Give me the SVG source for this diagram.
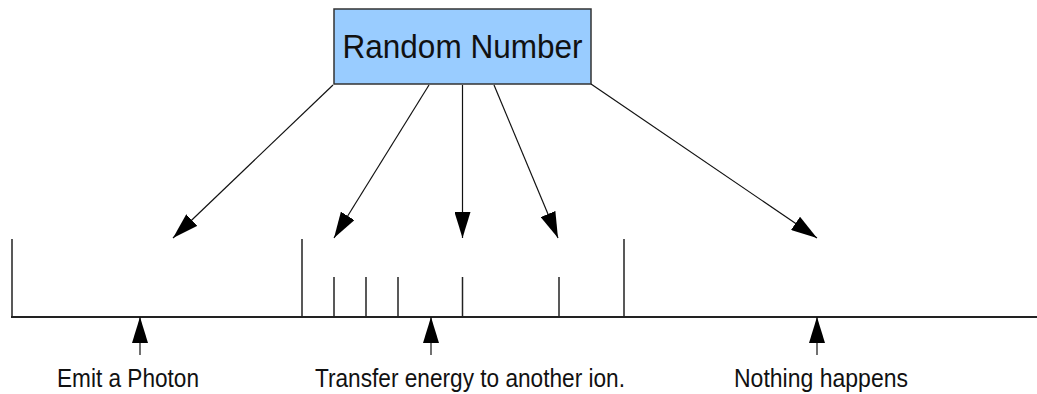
<svg xmlns="http://www.w3.org/2000/svg" width="1037" height="394" viewBox="0 0 1037 394">
<style>
.lbl{font-family:"Liberation Sans",Arial,sans-serif;font-size:25px;fill:#111;text-anchor:middle}
.title{font-family:"Liberation Sans",Arial,sans-serif;font-size:33px;fill:#111;text-anchor:middle}
.conn{stroke:#111;stroke-width:1.2;fill:none;marker-end:url(#ah)}
.tick{stroke:#222;stroke-width:1.5}
.axis{stroke:#222;stroke-width:2}
</style>
<defs>
<marker id="ah" markerUnits="userSpaceOnUse" markerWidth="26" markerHeight="16" refX="26" refY="8" orient="auto">
<path d="M0,0 L26,8 L0,16 z" fill="#000"/>
</marker>
</defs>
<rect width="1037" height="394" fill="#fff"/>
<g id="random-number">
<rect x="334" y="9" width="257" height="75" fill="#99ccff" stroke="#333" stroke-width="1.5"/>
<text class="title" x="462.5" y="57.5" textLength="240" lengthAdjust="spacingAndGlyphs">Random Number</text>
</g>
<g id="scale">
<line class="axis" x1="11" y1="317" x2="1037" y2="317"/>
<line class="tick" x1="12" y1="239" x2="12" y2="317"/>
<line class="tick" x1="302" y1="239" x2="302" y2="317"/>
<line class="tick" x1="624" y1="239" x2="624" y2="317"/>
<line class="tick" x1="334" y1="277" x2="334" y2="317"/>
<line class="tick" x1="366" y1="277" x2="366" y2="317"/>
<line class="tick" x1="398" y1="277" x2="398" y2="317"/>
<line class="tick" x1="462.5" y1="277" x2="462.5" y2="317"/>
<line class="tick" x1="559" y1="277" x2="559" y2="317"/>
</g>
<g id="label-emit">
<text class="lbl" x="128" y="387" textLength="142" lengthAdjust="spacingAndGlyphs">Emit a Photon</text>
</g>
<g id="label-transfer">
<text class="lbl" x="470" y="387" textLength="310" lengthAdjust="spacingAndGlyphs">Transfer energy to another ion.</text>
</g>
<g id="label-nothing">
<text class="lbl" x="821" y="387" textLength="174" lengthAdjust="spacingAndGlyphs">Nothing happens</text>
</g>
<g id="connectors">
<line class="conn" x1="333" y1="85" x2="173" y2="238"/>
<line class="conn" x1="429" y1="85" x2="334" y2="238"/>
<line class="conn" x1="462.5" y1="85" x2="462.5" y2="238"/>
<line class="conn" x1="494" y1="85" x2="558" y2="238"/>
<line class="conn" x1="591" y1="84" x2="817" y2="238"/>
<line class="conn" x1="140" y1="355" x2="140" y2="317"/>
<line class="conn" x1="431" y1="355" x2="431" y2="317"/>
<line class="conn" x1="817" y1="355" x2="817" y2="317"/>
</g>
</svg>
